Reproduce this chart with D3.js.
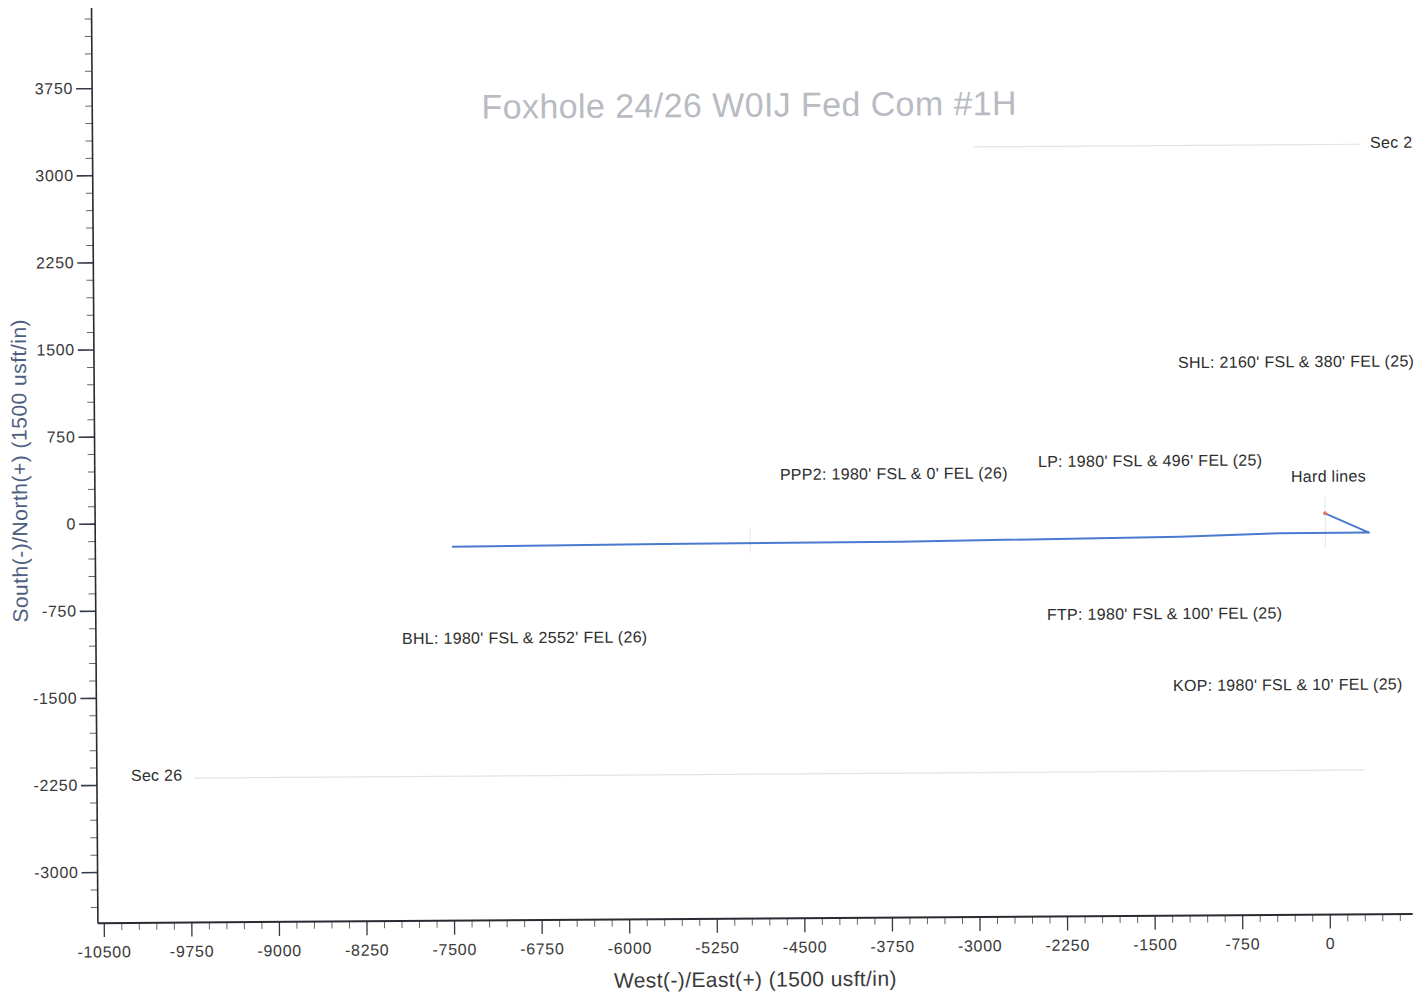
<!DOCTYPE html>
<html>
<head>
<meta charset="utf-8">
<script src="https://cdn.jsdelivr.net/npm/d3@7"></script>
<style>
  html, body { margin: 0; padding: 0; background: #fff; }
  svg { display: block; }
  text { font-family: "Liberation Sans", Arial, sans-serif; }
</style>
</head>
<body>
<svg id="chart" width="1414" height="994"></svg>
<script>
// ---------------- data ----------------
const chartTitle = "Foxhole 24/26 W0IJ Fed Com #1H";
const xAxisTitle = "West(-)/East(+) (1500 usft/in)";
const yAxisTitle = "South(-)/North(+) (1500 usft/in)";

const xExtent = [-10550, 710];
const yExtent = [-3440, 4440];
const xMajorTicks = [-10500, -9750, -9000, -8250, -7500, -6750, -6000, -5250, -4500, -3750, -3000, -2250, -1500, -750, 0];
const yMajorTicks = [-3000, -2250, -1500, -750, 0, 750, 1500, 2250, 3000, 3750];
const minorStep = 150;

// well plan view (East, North) in usft
const wellEast  = [-16, 359, -403, -1260, -3658, -5689, -7495];
const wellNorth = [15, -153, -154, -177, -204, -209, -220];

// faint section / hard lines: [E1, N1, E2, N2]
const sectionLines = [
  [-9719, -2197, 301, -2197],
  [-3000, 3191, 301, 3191]
];
const hardLines = [
  [-15, 156, -15, -275],
  [-4941, -77, -4941, -292]
];

// annotations: text with anchor (left, baseline) in East/North
const annoText  = ["SHL: 2160' FSL & 380' FEL (25)", "LP: 1980' FSL & 496' FEL (25)", "PPP2: 1980' FSL & 0' FEL (26)", "Hard lines", "FTP: 1980' FSL & 100' FEL (25)", "KOP: 1980' FSL & 10' FEL (25)", "BHL: 1980' FSL & 2552' FEL (26)", "Sec 26", "Sec 2"];
const annoEast  = [-1267, -2472, -4683, -306, -2404, -1329, -7929, -10259, 391];
const annoNorth = [1275, 431, 335, 287, -887, -1506, -1055, -2218, 3158];

// ---------------- drawing ----------------
const svg = d3.select("#chart");
const root = svg.append("g").attr("transform", "rotate(-0.4, 707, 497)");

const x = d3.scaleLinear().domain(xExtent).range([94.96, 1409.7]);
const y = d3.scaleLinear().domain(yExtent).range([918.9, 3.77]);

const xMinor = d3.range(-10500, xExtent[1], minorStep).filter(v => !xMajorTicks.includes(v));
const yMinor = d3.range(-3300, yExtent[1], minorStep).filter(v => !yMajorTicks.includes(v));

// title
root.append("text")
  .attr("x", 752).attr("y", 117)
  .attr("text-anchor", "middle")
  .attr("font-size", 34)
  .attr("letter-spacing", 0.4)
  .attr("fill", "#b9bbc3")
  .text(chartTitle);

// faint section lines
root.selectAll("line.sec").data(sectionLines).join("line")
  .attr("class", "sec")
  .attr("x1", d => x(d[0])).attr("y1", d => y(d[1]))
  .attr("x2", d => x(d[2])).attr("y2", d => y(d[3]))
  .attr("stroke", "#e3e4e7").attr("stroke-width", 1.2);

root.selectAll("line.hard").data(hardLines).join("line")
  .attr("class", "hard")
  .attr("x1", d => x(d[0])).attr("y1", d => y(d[1]))
  .attr("x2", d => x(d[2])).attr("y2", d => y(d[3]))
  .attr("stroke", "#e4e5e8").attr("stroke-width", 1);

// axes
const tickFont = g => g.selectAll("text")
  .attr("font-size", 16).attr("letter-spacing", 0.7).attr("fill", "#3a3a3a")
  .attr("font-family", "Liberation Sans, Arial, sans-serif");

const xAxisG = root.append("g").attr("transform", `translate(0,${y(yExtent[0])})`);
xAxisG.append("g")
  .call(d3.axisBottom(x).tickValues(xMinor).tickSize(7).tickFormat(""))
  .call(g => g.select(".domain").remove())
  .call(g => g.selectAll("line").attr("stroke", "#666"));
xAxisG.append("g")
  .call(d3.axisBottom(x).tickValues(xMajorTicks).tickSize(14).tickPadding(9).tickFormat(d => String(d)))
  .call(g => g.select(".domain").remove())
  .call(g => g.selectAll("line").attr("stroke", "#333a48").attr("stroke-width", 1.3))
  .call(tickFont);
xAxisG.append("line")
  .attr("x1", x(xExtent[0])).attr("x2", x(xExtent[1]))
  .attr("stroke", "#2a2a32").attr("stroke-width", 2);

const yAxisG = root.append("g").attr("transform", `translate(${x(xExtent[0])},0)`);
yAxisG.append("g")
  .call(d3.axisLeft(y).tickValues(yMinor).tickSize(7).tickFormat(""))
  .call(g => g.select(".domain").remove())
  .call(g => g.selectAll("line").attr("stroke", "#666"));
yAxisG.append("g")
  .call(d3.axisLeft(y).tickValues(yMajorTicks).tickSize(16).tickPadding(3).tickFormat(d => String(d)))
  .call(g => g.select(".domain").remove())
  .call(g => g.selectAll("line").attr("stroke", "#333a48").attr("stroke-width", 1.6))
  .call(tickFont);
yAxisG.append("line")
  .attr("y1", y(yExtent[0])).attr("y2", y(yExtent[1]))
  .attr("stroke", "#2a2a32").attr("stroke-width", 1.6);

// axis titles
root.append("text")
  .attr("x", 752).attr("y", 987)
  .attr("text-anchor", "middle")
  .attr("font-size", 21)
  .attr("letter-spacing", 0.4)
  .attr("fill", "#3a3a3a")
  .text(xAxisTitle);
root.append("text")
  .attr("transform", `translate(27,466) rotate(-90)`)
  .attr("text-anchor", "middle")
  .attr("font-size", 21)
  .attr("letter-spacing", 0.5)
  .attr("fill", "#4f5f80")
  .text(yAxisTitle);

// well path
const wellPts = wellEast.map((e, i) => [e, wellNorth[i]]);
root.append("path")
  .attr("d", d3.line().x(d => x(d[0])).y(d => y(d[1]))(wellPts))
  .attr("fill", "none")
  .attr("stroke", "#4a7ad0")
  .attr("stroke-width", 2)
  .attr("stroke-linejoin", "round");
root.append("circle")
  .attr("cx", x(wellEast[0])).attr("cy", y(wellNorth[0]))
  .attr("r", 2).attr("fill", "#f07850");

// annotations
root.selectAll("text.anno").data(annoText).join("text")
  .attr("class", "anno")
  .attr("x", (d, i) => x(annoEast[i]))
  .attr("y", (d, i) => y(annoNorth[i]))
  .attr("font-size", 16)
  .attr("letter-spacing", 0.3)
  .attr("fill", "#2e2e2e")
  .text(d => d);
</script>
</body>
</html>
